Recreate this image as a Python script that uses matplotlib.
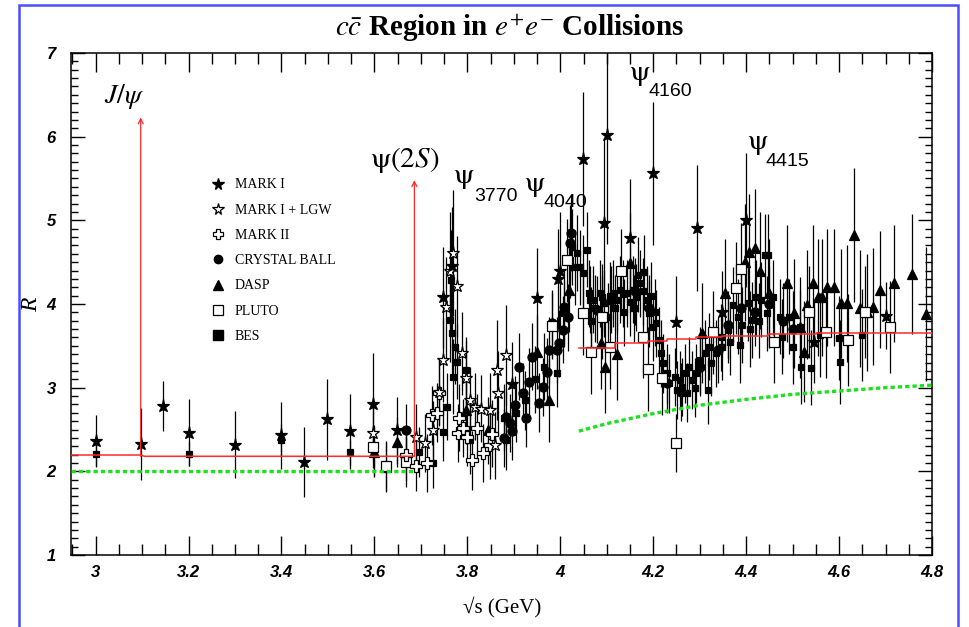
import matplotlib
matplotlib.use("Agg")
import matplotlib.pyplot as plt
from matplotlib.lines import Line2D
from matplotlib.patches import Rectangle
from matplotlib.ticker import MultipleLocator, FuncFormatter

plt.rcParams['mathtext.fontset'] = 'stix'

# ---- data: sqrt(s) [GeV], R, error ----
mark1_x = [3.000, 3.097, 3.146, 3.200, 3.299, 3.398, 3.448, 3.497, 3.547, 3.598, 3.648,
           3.747, 3.766, 3.897, 3.949, 3.996, 3.999, 4.048, 4.095, 4.100, 4.149, 4.199,
           4.248, 4.295, 4.347, 4.399, 4.547, 4.700]
mark1_r = [2.36, 2.33, 2.78, 2.46, 2.32, 2.43, 2.11, 2.62, 2.48, 2.81, 2.49,
           4.08, 4.46, 3.04, 4.07, 4.30, 4.40, 5.73, 4.97, 6.02, 4.79, 5.56,
           3.78, 4.91, 3.90, 5.00, 3.55, 3.86]
mark1_e = [0.31, 0.43, 0.30, 0.40, 0.40, 0.40, 0.42, 0.48, 0.45, 0.60, 0.40,
           0.60, 0.70, 0.50, 0.60, 0.60, 0.70, 0.80, 1.00, 1.30, 0.70, 0.85,
           0.55, 0.75, 0.50, 0.80, 0.50, 0.40]

lgw_x = [3.598, 3.689, 3.708, 3.727, 3.738, 3.747, 3.755, 3.762, 3.770, 3.777, 3.788,
         3.798, 3.805, 3.816, 3.830, 3.848, 3.859, 3.863, 3.867, 3.884]
lgw_r = [2.46, 2.41, 2.34, 2.49, 2.95, 3.33, 3.96, 4.40, 4.61, 4.21, 3.41,
         3.11, 2.85, 2.77, 2.75, 2.73, 2.31, 3.21, 2.94, 3.39]
lgw_e = [0.35, 0.40, 0.35, 0.35, 0.40, 0.50, 0.60, 0.70, 0.75, 0.60, 0.50,
         0.45, 0.40, 0.40, 0.40, 0.45, 0.40, 0.60, 0.50, 0.60]

mark2_x = [3.667, 3.689, 3.714, 3.725, 3.735, 3.738, 3.779, 3.783, 3.790, 3.800,
           3.809, 3.820, 3.833, 3.848, 3.852]
mark2_r = [2.19, 2.06, 2.10, 2.67, 2.70, 2.94, 2.46, 2.64, 2.52, 2.41,
           2.13, 2.52, 2.22, 2.31, 2.45]
mark2_e = [0.30, 0.30, 0.35, 0.35, 0.35, 0.40, 0.35, 0.40, 0.35, 0.35,
           0.35, 0.40, 0.35, 0.40, 0.40]

cb_x = [3.667, 3.878, 3.884, 3.891, 3.897, 3.902, 3.912, 3.919, 3.927, 3.932, 3.940,
        3.955, 3.962, 3.971, 3.975, 3.983, 3.992, 3.998, 4.005, 4.009, 4.016, 4.020,
        4.024, 4.078, 4.110, 4.160, 4.190, 4.230, 4.260, 4.300, 4.340, 4.360, 4.390,
        4.420, 4.450, 4.480, 4.500]
cb_r = [2.50, 2.40, 2.65, 2.58, 2.48, 2.79, 3.25, 2.94, 2.64, 3.07, 3.37,
        2.82, 3.01, 3.19, 3.45, 3.77, 3.45, 3.53, 3.69, 3.96, 3.84, 4.73,
        4.85, 3.93, 4.05, 4.15, 3.95, 3.05, 2.95, 3.25, 3.45, 3.75, 3.95,
        3.90, 4.00, 3.80, 3.70]
cb_e = [0.30, 0.35, 0.35, 0.35, 0.35, 0.35, 0.40, 0.35, 0.35, 0.40, 0.40,
        0.35, 0.35, 0.40, 0.40, 0.40, 0.40, 0.40, 0.40, 0.45, 0.40, 0.45,
        0.45, 0.40, 0.40, 0.40, 0.40, 0.35, 0.35, 0.35, 0.40, 0.40, 0.40,
        0.40, 0.45, 0.45, 0.45]

dasp_x = [3.600, 3.626, 3.648, 3.798, 3.844, 3.949, 3.975, 4.018, 4.087, 4.097, 4.121,
          4.150, 4.304, 4.354, 4.397, 4.407, 4.418, 4.429, 4.450, 4.489, 4.504, 4.515,
          4.524, 4.532, 4.543, 4.554, 4.564, 4.575, 4.590, 4.605, 4.618, 4.633, 4.644,
          4.661, 4.674, 4.689, 4.719, 4.758, 4.788]
dasp_r = [2.23, 2.05, 2.35, 2.73, 2.49, 3.43, 2.85, 4.17, 3.53, 3.25, 3.40,
          4.49, 3.65, 4.13, 4.50, 4.62, 4.67, 4.40, 4.13, 4.25, 3.89, 3.72,
          3.43, 3.99, 4.25, 4.08, 4.08, 4.20, 4.20, 4.01, 4.01, 4.82, 3.95,
          3.90, 3.97, 4.17, 4.25, 4.36, 3.88]
dasp_e = [0.30, 0.30, 0.30, 0.40, 0.40, 0.45, 0.50, 0.50, 0.55, 0.55, 0.55,
          0.60, 0.60, 0.65, 0.70, 0.70, 0.70, 0.70, 0.65, 0.70, 0.65, 0.60,
          0.60, 0.65, 0.70, 0.70, 0.70, 0.70, 0.70, 0.65, 0.70, 0.80, 0.70,
          0.70, 0.70, 0.70, 0.70, 0.72, 0.80]

pluto_x = [3.598, 3.626, 3.667, 3.983, 4.014, 4.048, 4.067, 4.089, 4.106, 4.130, 4.177,
           4.188, 4.218, 4.248, 4.328, 4.379, 4.390, 4.461, 4.536, 4.571, 4.620, 4.655,
           4.709]
pluto_r = [2.29, 2.06, 2.11, 3.74, 4.52, 3.89, 3.43, 3.84, 3.49, 4.40, 3.61,
           3.22, 3.12, 2.34, 3.66, 4.19, 4.42, 3.55, 3.90, 3.66, 3.57, 3.90,
           3.72]
pluto_e = [0.25, 0.30, 0.30, 0.40, 0.50, 0.50, 0.50, 0.50, 0.50, 0.50, 0.50,
           0.50, 0.45, 0.35, 0.50, 0.55, 0.55, 0.50, 0.55, 0.55, 0.55, 0.55,
           0.55]

bes_x = [3.000, 3.200, 3.398, 3.547, 3.600, 3.697, 3.727, 3.747, 3.757, 3.762, 3.764,
         3.766, 3.770, 3.773, 3.777, 3.798, 3.805, 3.878, 3.884, 3.905, 3.925, 3.945,
         3.965, 3.994, 4.009, 4.020, 4.026, 4.031, 4.035, 4.042, 4.048, 4.057, 4.061,
         4.063, 4.070, 4.085, 4.090, 4.095, 4.106, 4.113, 4.121, 4.128, 4.135, 4.143,
         4.149, 4.156, 4.163, 4.171, 4.177, 4.181, 4.186, 4.192, 4.199, 4.203, 4.207,
         4.213, 4.216, 4.220, 4.229, 4.235, 4.246, 4.252, 4.257, 4.263, 4.268, 4.272,
         4.278, 4.283, 4.289, 4.293, 4.300, 4.311, 4.317, 4.321, 4.336, 4.349, 4.360,
         4.371, 4.382, 4.386, 4.403, 4.412, 4.422, 4.433, 4.440, 4.444, 4.448, 4.457,
         4.472, 4.478, 4.493, 4.500, 4.515, 4.519, 4.539, 4.558, 4.599, 4.601, 4.650,
         4.066, 4.075, 4.102, 4.118, 4.138, 4.158, 4.168, 4.196, 4.325, 4.345, 4.365,
         4.392, 4.408, 4.428]
bes_r = [2.21, 2.21, 2.37, 2.23, 2.25, 2.23, 2.10, 2.47, 2.77, 3.81, 4.29,
         3.65, 3.13, 3.49, 3.31, 3.21, 2.37, 2.64, 2.37, 2.70, 2.85, 3.10,
         3.25, 3.17, 3.89, 4.52, 4.68, 4.44, 4.61, 4.44, 4.37, 4.65, 4.13,
         4.05, 4.05, 4.13, 4.08, 4.01, 4.10, 4.13, 4.05, 4.17, 4.12, 4.13,
         4.02, 4.17, 4.08, 4.25, 4.15, 4.38, 4.05, 3.89, 3.72, 3.90, 3.77,
         3.57, 3.41, 3.29, 3.17, 3.05, 3.13, 2.97, 3.09, 3.01, 3.17, 2.94,
         3.25, 3.09, 3.00, 3.17, 3.33, 3.41, 2.97, 3.49, 3.41, 3.49, 3.69,
         3.99, 3.85, 3.51, 4.01, 3.81, 4.08, 4.05, 4.58, 3.89, 4.58, 4.08,
         3.85, 3.61, 3.85, 3.49, 3.72, 3.25, 3.24, 3.63, 3.59, 3.31, 3.63,
         3.80, 3.95, 3.85, 3.95, 3.90, 3.95, 4.35, 4.10, 3.30, 3.60, 3.55,
         3.75, 3.70, 3.80]
bes_e = [0.15, 0.15, 0.20, 0.15, 0.30, 0.30, 0.30, 0.35, 0.40, 0.50, 0.60,
         0.50, 0.45, 0.45, 0.45, 0.40, 0.40, 0.40, 0.35, 0.35, 0.35, 0.40,
         0.40, 0.40, 0.40, 0.45, 0.45, 0.45, 0.45, 0.45, 0.45, 0.45, 0.40,
         0.40, 0.40, 0.40, 0.40, 0.40, 0.40, 0.40, 0.40, 0.40, 0.40, 0.40,
         0.40, 0.40, 0.40, 0.40, 0.40, 0.45, 0.40, 0.40, 0.40, 0.40, 0.40,
         0.40, 0.40, 0.35, 0.35, 0.35, 0.35, 0.35, 0.35, 0.35, 0.35, 0.35,
         0.35, 0.35, 0.35, 0.35, 0.40, 0.40, 0.40, 0.40, 0.40, 0.40, 0.40,
         0.45, 0.45, 0.45, 0.45, 0.45, 0.45, 0.45, 0.50, 0.45, 0.50, 0.45,
         0.45, 0.45, 0.45, 0.45, 0.45, 0.45, 0.45, 0.50, 0.50, 0.50, 0.55,
         0.40, 0.40, 0.40, 0.40, 0.40, 0.40, 0.45, 0.40, 0.40, 0.40, 0.40,
         0.45, 0.45, 0.45]

# QCD / parton-model curves
red_low_x = [2.947, 3.097, 3.105, 3.686]
red_low_r = [2.195, 2.195, 2.18, 2.18]
red_high_x = [4.04, 4.117, 4.188, 4.229, 4.293, 4.349, 4.446, 4.551, 4.80]
red_high_r = [3.475, 3.53, 3.556, 3.585, 3.60, 3.62, 3.64, 3.655, 3.655]
green_low_x = [2.947, 3.686]
green_low_r = [2.0, 2.0]
green_high_x = [4.04, 4.10, 4.20, 4.30, 4.40, 4.50, 4.60, 4.70, 4.80]
green_high_r = [2.48, 2.57, 2.69, 2.79, 2.86, 2.92, 2.96, 3.00, 3.03]

# narrow resonances (mass, arrow top)
jpsi = (3.097, 6.23)
psi2s = (3.686, 5.48)

# broad resonance labels: subscript, psi position, subscript position
psi_names = ['3770', '4040', '4160', '4415']
psi_pos = [(3.770, 5.52), (3.921, 5.42), (4.147, 6.75), (4.401, 5.93)]
sub_pos = [(3.814, 5.28), (3.964, 5.21), (4.190, 6.54), (4.442, 5.70)]

red = '#ff2b2b'
green = '#1fe01f'

fig = plt.figure(figsize=(9.7, 6.27), dpi=100)
ax = fig.add_axes([71 / 970, 72 / 627, 861 / 970, 502 / 627])


def draw(x, r, e, marker, ms, filled):
    ax.errorbar(x, r, yerr=e, fmt=marker, ms=ms,
                mfc='black' if filled else 'white', mec='black', mew=0.9,
                ecolor='black', elinewidth=0.9, capsize=0, zorder=3)


draw(bes_x, bes_r, bes_e, 's', 5, True)
draw(cb_x, cb_r, cb_e, 'o', 6.5, True)
draw(dasp_x, dasp_r, dasp_e, '^', 7, True)
draw(pluto_x, pluto_r, pluto_e, 's', 7.5, False)
draw(mark2_x, mark2_r, mark2_e, 'P', 8, False)
draw(lgw_x, lgw_r, lgw_e, '*', 9.5, False)
draw(mark1_x, mark1_r, mark1_e, '*', 9.5, True)

ax.plot(red_low_x, red_low_r, color=red, lw=1.1, zorder=4)
ax.step(red_high_x, red_high_r, where='post', color=red, lw=1.1, zorder=4)
ax.plot(green_low_x, green_low_r, color=green, lw=2.4, ls=(0, (1.3, 0.9)), zorder=4)
ax.plot(green_high_x, green_high_r, color=green, lw=2.4, ls=(0, (1.3, 0.9)), zorder=4)

for m, top in (jpsi, psi2s):
    ax.annotate('', xy=(m, top), xytext=(m, 2.18),
                arrowprops=dict(arrowstyle='->', color=red, lw=0.9,
                                mutation_scale=9, shrinkA=0, shrinkB=0), zorder=4)

ax.text(3.062, 6.48, r'$J/\psi$', fontsize=20, ha='center', va='center')
ax.text(3.665, 5.72, r'$\mathrm{\psi}(2S)$', fontsize=21, ha='center', va='center')
for name, (px, py), (sx, sy) in zip(psi_names, psi_pos, sub_pos):
    ax.text(px, py, r'$\mathrm{\psi}$', fontsize=21, ha='left', va='center')
    ax.text(sx, sy, name, family='Liberation Sans', fontsize=14, ha='left', va='center')

# legend
handles = [
    Line2D([], [], ls='none', marker='*', ms=8.5, mfc='black', mec='black'),
    Line2D([], [], ls='none', marker='*', ms=8.5, mfc='white', mec='black', mew=0.9),
    Line2D([], [], ls='none', marker='P', ms=7, mfc='white', mec='black', mew=0.9),
    Line2D([], [], ls='none', marker='o', ms=6, mfc='black', mec='black'),
    Line2D([], [], ls='none', marker='^', ms=6.5, mfc='black', mec='black'),
    Line2D([], [], ls='none', marker='s', ms=6.5, mfc='white', mec='black', mew=0.9),
    Line2D([], [], ls='none', marker='s', ms=6.5, mfc='black', mec='black'),
]
labels = ['MARK I', 'MARK I + LGW', 'MARK II', 'CRYSTAL BALL', 'DASP', 'PLUTO', 'BES']
ax.legend(handles, labels, loc='upper left', bbox_to_anchor=(0.1626, 0.75),
          frameon=False, borderpad=0, borderaxespad=0, handlelength=1.0,
          handletextpad=0.7, labelspacing=0.88,
          prop={'family': 'Liberation Serif', 'size': 10})

ax.set_xlim(2.947, 4.8)
ax.set_ylim(1, 7)
ax.xaxis.set_major_locator(MultipleLocator(0.2))
ax.xaxis.set_minor_locator(MultipleLocator(0.05))
ax.yaxis.set_major_locator(MultipleLocator(1))
ax.yaxis.set_minor_locator(MultipleLocator(0.1))
ax.xaxis.set_major_formatter(FuncFormatter(lambda v, p: '%g' % round(v, 2)))
ax.yaxis.set_major_formatter(FuncFormatter(lambda v, p: '%g' % v))
ax.tick_params(which='both', direction='in', top=True, right=True, width=1.0, color='black')
ax.tick_params(axis='x', which='major', length=14, pad=7)
ax.tick_params(axis='x', which='minor', length=8)
ax.tick_params(axis='y', which='major', length=10, pad=11)
ax.tick_params(axis='y', which='minor', length=5)
for lab in ax.get_xticklabels() + ax.get_yticklabels():
    lab.set_family('Liberation Sans')
    lab.set_fontweight('bold')
    lab.set_fontstyle('italic')
    lab.set_fontsize(12)
for s in ax.spines.values():
    s.set_linewidth(1.1)

fig.text(510 / 970, 1 - 29 / 627, r'$c\bar{c}$ Region in $e^{+}e^{-}$ Collisions',
         family='Liberation Serif', fontweight='bold', fontsize=21, ha='center', va='center')
fig.text(502 / 970, 1 - 607 / 627, '\u221as (GeV)', family='Liberation Serif',
         fontsize=15, ha='center', va='center')
fig.text(32 / 970, 1 - 305 / 627, 'R', family='Liberation Serif', style='italic',
         fontsize=17, ha='center', va='center', rotation=90)

fig.patches.append(Rectangle((19 / 970, -0.05), (958 - 19) / 970, 1.05 - 5 / 627,
                             transform=fig.transFigure, fill=False, ec='#4d4dff', lw=1.8))

fig.savefig('out.png', dpi=100)
